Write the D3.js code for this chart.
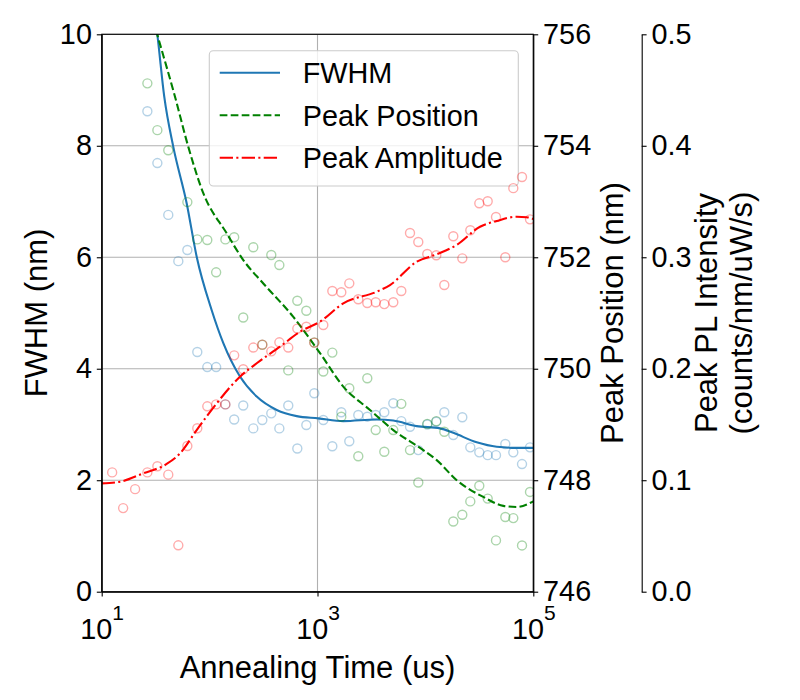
<!DOCTYPE html>
<html>
<head>
<meta charset="utf-8">
<script src="https://cdn.jsdelivr.net/npm/d3@7"></script>
<style>
    body { margin: 0; background: #fff; }
    svg text { font-family: "Liberation Sans", Arial, sans-serif; fill: #000; }
</style>
</head>
<body>
<svg id="chart" width="800" height="700"></svg>
<script>
// measurement times (us), one column of points per time
var times = [12.5, 15.8, 20.4, 26.5, 32.8, 41.4, 51.3, 62.2, 76.9, 95.2, 115, 140, 169, 205, 254, 308,
    373, 443, 536, 650, 788, 934, 1132, 1372, 1662, 1971, 2388, 2894, 3463, 4160, 5041, 5980, 7200,
    8594, 10410, 12620, 14970, 18140, 21980, 26070, 31590, 37790, 45110, 55030, 65260, 78600, 93200];

// FWHM (nm), null where the point is off the plot
var fwhm = [null, null, null, 8.62, 7.69, 6.76, 5.93, 6.13, 4.30, 4.03, 4.03, 3.36, 3.09, 3.34, 2.93, 3.08,
    3.20, 2.93, 3.34, 2.57, 2.99, 3.56, 3.08, 2.61, 3.22, 2.70, 3.17, 3.14, 3.17, 3.22, 3.38, 3.06, 2.96,
    2.54, 3.00, 3.05, 3.22, 2.81, 3.13, 2.59, 2.50, 2.45, 2.45, 2.65, 2.50, 2.29, 2.59];

// peak position (nm)
var peakPos = [null, null, null, 755.12, 754.28, 753.92, null, 752.99, 752.32, 752.31, 751.73, 752.32, 752.36,
    750.92, 752.18, 750.43, 752.04, 751.86, 749.97, 751.22, 751.04, 750.47, 749.95, 750.29, 749.14, 749.65,
    748.43, 749.83, 748.90, 748.51, 748.90, 749.37, 748.54, 747.96, 749.01, 749.06, 748.87, 747.26, 747.38,
    747.62, 747.90, 747.67, 746.92, 747.34, 747.32, 746.83, 747.79];

// peak PL intensity (counts/nm/uW/s)
var peakAmp = [0.107, 0.075, 0.092, 0.107, 0.1125, 0.105, 0.0416, 0.1307, 0.1466, 0.1663, 0.168, 0.168, 0.212,
    0.1995, 0.219, 0.2216, 0.2156, 0.2237, 0.219, 0.236, 0.2377, 0.2234, 0.2392, 0.2697, 0.2686, 0.2766,
    0.2623, 0.259, 0.2596, 0.258, 0.2596, 0.2697, 0.3218, 0.3137, 0.3029, 0.3018, 0.2751, 0.3188, 0.299,
    0.3242, 0.3484, 0.3502, 0.3361, 0.300, 0.362, 0.372, 0.334];

// smoothed curves
var fwhmFitT = [28.0, 32.8, 38.0, 46.1, 61.3, 75.9, 104.6, 134, 191.3, 273.3, 418.8, 641.5, 1017, 1734,
    3538, 5040, 8306, 13655, 18140, 29880, 45800, 70200, 100000];
var fwhmFitV = [10.92, 9.99, 8.88, 7.98, 6.97, 6.01, 5.05, 4.46, 3.86, 3.50, 3.26, 3.15, 3.11, 3.06,
    3.09, 3.07, 2.97, 2.93, 2.85, 2.68, 2.60, 2.58, 2.58];

var posFitT = [28.0, 32.8, 47.8, 63.5, 87.4, 144.0, 205.3, 314.6, 596.9, 1055, 1734, 3066, 5040, 9561,
    12730, 19500, 34410, 52720, 70200, 93200, 100000];
var posFitV = [756.46, 755.99, 754.88, 753.98, 753.15, 752.43, 751.95, 751.53, 750.93, 750.28, 749.68,
    749.26, 748.90, 748.54, 748.36, 748.00, 747.70, 747.54, 747.52, 747.59, 747.62];

var ampFitT = [10, 14.8, 24.3, 40.0, 53.2, 75.9, 116.4, 191.3, 273.3, 449.3, 688.3, 1055, 1734, 3538,
    4699, 8306, 12730, 19500, 32060, 45800, 70200, 86880, 100000];
var ampFitV = [0.0972, 0.0987, 0.1062, 0.1146, 0.1241, 0.145, 0.169, 0.1929, 0.2049, 0.2198, 0.2332,
    0.2422, 0.2587, 0.2691, 0.2751, 0.296, 0.3027, 0.311, 0.3274, 0.3325, 0.3364, 0.3359, 0.3343];

// tick values
var xTicks = [10, 1000, 100000];
var fwhmTicks = [0, 2, 4, 6, 8, 10];
var posTicks = [746, 748, 750, 752, 754, 756];
var ampTicks = [0.0, 0.1, 0.2, 0.3, 0.4, 0.5];

var legendItems = [
    {label: 'FWHM', color: '#1f77b4', dash: null},
    {label: 'Peak Position', color: '#008000', dash: '7.7,3.3'},
    {label: 'Peak Amplitude', color: '#ff0000', dash: '13.3,3.3,2.1,3.3'}
];

var frame = {left: 101.7, right: 533.3, top: 34.3, bottom: 591.7};
var ax3X = 641.7;
var TICK = 4.9, PAD = 4.9, TICK_FONT = 28.8, LABEL_FONT = 31;

var x = d3.scaleLog().domain([10, 1e5]).range([frame.left, frame.right]);
var yFwhm = d3.scaleLinear().domain([0, 10]).range([frame.bottom, frame.top]);
var yPos = d3.scaleLinear().domain([746, 756]).range([frame.bottom, frame.top]);
var yAmp = d3.scaleLinear().domain([0, 0.5]).range([frame.bottom, frame.top]);

var svg = d3.select('#chart');

svg.append('defs').append('clipPath').attr('id', 'plot-clip')
    .append('rect')
    .attr('x', frame.left).attr('y', frame.top)
    .attr('width', frame.right - frame.left)
    .attr('height', frame.bottom - frame.top);

// grid
var grid = svg.append('g').classed('grid', true)
    .attr('stroke', '#b0b0b0').attr('stroke-width', 1.1);
grid.selectAll('line.gx').data(xTicks).enter().append('line')
    .attr('x1', function(d){ return x(d); }).attr('x2', function(d){ return x(d); })
    .attr('y1', frame.top).attr('y2', frame.bottom);
grid.selectAll('line.gy').data(fwhmTicks).enter().append('line')
    .attr('x1', frame.left).attr('x2', frame.right)
    .attr('y1', function(d){ return yFwhm(d); }).attr('y2', function(d){ return yFwhm(d); });

function drawSeries (values, yScale, fitT, fitV, color, dash) {
    var g = svg.append('g').attr('clip-path', 'url(#plot-clip)');
    var pts = times.map(function(t, i){ return {t: t, v: values[i]}; })
        .filter(function(d){ return d.v !== null; });

    g.selectAll('circle').data(pts).enter().append('circle')
        .attr('cx', function(d){ return x(d.t); })
        .attr('cy', function(d){ return yScale(d.v); })
        .attr('r', 4.5)
        .attr('fill', 'none')
        .attr('stroke', color)
        .attr('stroke-opacity', 0.33)
        .attr('stroke-width', 1.4);

    var line = d3.line()
        .x(function(d){ return x(d[0]); })
        .y(function(d){ return yScale(d[1]); })
        .curve(d3.curveMonotoneX);

    g.append('path')
        .datum(d3.zip(fitT, fitV))
        .attr('d', line)
        .attr('fill', 'none')
        .attr('stroke', color)
        .attr('stroke-width', 2.1)
        .attr('stroke-dasharray', dash);
}

drawSeries(fwhm, yFwhm, fwhmFitT, fwhmFitV, legendItems[0].color, legendItems[0].dash);

// legend
var legend = svg.append('g').classed('legend', true);
legend.append('rect')
    .attr('x', 209.3).attr('y', 50.7)
    .attr('width', 309).attr('height', 135.3)
    .attr('rx', 4)
    .attr('fill', '#fff').attr('fill-opacity', 0.8)
    .attr('stroke', '#cccccc').attr('stroke-width', 1.1);
legendItems.forEach(function(item, i){
    var ly = 72.7 + i * 42.5;
    legend.append('line')
        .attr('x1', 219.7).attr('x2', 280)
        .attr('y1', ly).attr('y2', ly)
        .attr('stroke', item.color)
        .attr('stroke-width', 2.1)
        .attr('stroke-dasharray', item.dash);
    legend.append('text')
        .attr('x', 302.7).attr('y', ly + 10.4)
        .attr('font-size', TICK_FONT)
        .text(item.label);
});

drawSeries(peakPos, yPos, posFitT, posFitV, legendItems[1].color, legendItems[1].dash);
drawSeries(peakAmp, yAmp, ampFitT, ampFitV, legendItems[2].color, legendItems[2].dash);

// frame (spines)
svg.append('rect')
    .attr('x', frame.left).attr('y', frame.top)
    .attr('width', frame.right - frame.left)
    .attr('height', frame.bottom - frame.top)
    .attr('fill', 'none').attr('stroke', '#000').attr('stroke-width', 1.1);

function styleAxis (g) {
    g.attr('font-size', null).attr('font-family', null);
    g.select('.domain').attr('stroke-width', 1.1);
    g.selectAll('.tick line').attr('stroke-width', 1.1);
    g.selectAll('.tick text').attr('font-size', TICK_FONT);
}

// bottom axis, 10^n labels
var xAxisG = svg.append('g')
    .attr('transform', 'translate(0,' + frame.bottom + ')')
    .call(d3.axisBottom(x).tickValues(xTicks).tickSize(TICK).tickSizeOuter(0).tickPadding(PAD))
    .call(styleAxis);
xAxisG.selectAll('.tick text').each(function(d){
    var t = d3.select(this).attr('y', 47.6).attr('dy', 0).text('10');
    t.append('tspan')
        .attr('dy', -19.5)
        .attr('font-size', 21)
        .text(Math.round(Math.log10(d)));
});

svg.append('g')
    .attr('transform', 'translate(' + frame.left + ',0)')
    .call(d3.axisLeft(yFwhm).tickValues(fwhmTicks).tickSize(TICK).tickSizeOuter(0).tickPadding(PAD)
        .tickFormat(d3.format('d')))
    .call(styleAxis);

svg.append('g')
    .attr('transform', 'translate(' + frame.right + ',0)')
    .call(d3.axisRight(yPos).tickValues(posTicks).tickSize(TICK).tickSizeOuter(0).tickPadding(PAD)
        .tickFormat(d3.format('d')))
    .call(styleAxis);

svg.append('g')
    .attr('transform', 'translate(' + ax3X + ',0)')
    .call(d3.axisRight(yAmp).tickValues(ampTicks).tickSize(TICK).tickSizeOuter(0).tickPadding(PAD)
        .tickFormat(d3.format('.1f')))
    .call(styleAxis);

// axis titles
var midY = (frame.top + frame.bottom) / 2;
svg.append('text')
    .attr('x', (frame.left + frame.right) / 2).attr('y', 678)
    .attr('text-anchor', 'middle').attr('font-size', LABEL_FONT)
    .text('Annealing Time (us)');

function vLabel (xPos, txt) {
    svg.append('text')
        .attr('transform', 'translate(' + xPos + ',' + midY + ') rotate(-90)')
        .attr('text-anchor', 'middle').attr('font-size', LABEL_FONT)
        .text(txt);
}
vLabel(47, 'FWHM (nm)');
vLabel(623, 'Peak Position (nm)');
vLabel(716.7, 'Peak PL Intensity');
vLabel(751.7, '(counts/nm/uW/s)');
</script>
</body>
</html>
